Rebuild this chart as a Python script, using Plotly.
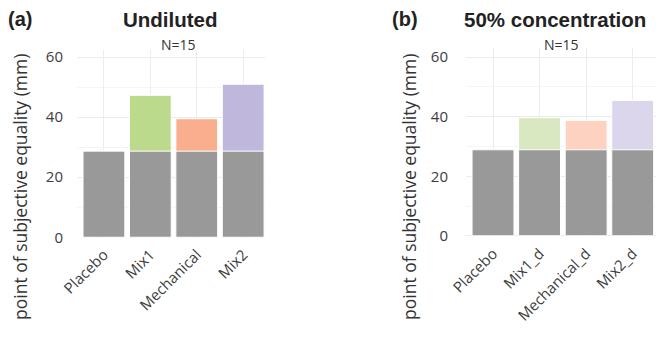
import plotly.graph_objects as go

# panel (a) undiluted
cats_a = ["Placebo", "Mix1", "Mechanical", "Mix2"]
vals_a = [28.7, 47.3, 39.5, 51.0]
base_a = [28.7, 28.7, 28.7, 28.7]

# panel (b) 50% concentration
cats_b = ["Placebo", "Mix1_d", "Mechanical_d", "Mix2_d"]
vals_b = [28.9, 39.7, 38.8, 45.5]
base_b = [28.9, 28.9, 28.9, 28.9]

cols_a = ["#999999", "#bcda8c", "#f9ae8d", "#bfb8dc"]
cols_b = ["#999999", "#d9e8c1", "#fdd2c0", "#dbd6ec"]
GRAY = "#999999"

# page body has an 8px margin, so the figure is a bit smaller and positions are shifted
OFF = 8
W, H = 664 - 2 * OFF, 338 - 2 * OFF
FONT = "Open Sans"

fig = go.Figure()

for ax, cats, vals, base, cols in [("", cats_a, vals_a, base_a, cols_a),
                                   ("2", cats_b, vals_b, base_b, cols_b)]:
    fig.add_trace(go.Bar(x=cats, y=vals, marker=dict(color=cols, line=dict(color="white", width=1)),
                         width=0.9, xaxis="x" + ax, yaxis="y" + ax, hoverinfo="skip"))
    fig.add_trace(go.Bar(x=cats, y=base, marker=dict(color=GRAY, line=dict(color="white", width=1)),
                         width=0.9, xaxis="x" + ax, yaxis="y" + ax, hoverinfo="skip"))


def px(x0, x1):
    return [(x0 - OFF) / W, min(1, (x1 - OFF) / W)]


def py(top, bottom):
    return [1 - (bottom - OFF) / H, 1 - (top - OFF) / H]


xcommon = dict(showgrid=True, gridcolor="#ededed", gridwidth=1, zeroline=False, showline=False,
               automargin=False, ticklabelstandoff=4,
               tickangle=-45, tickfont=dict(family=FONT, size=15, color="#3d3d3d"), ticks="")
ycommon = dict(showgrid=True, gridcolor="#ebebeb", gridwidth=1, zeroline=False, showline=False,
               automargin=False,
               tickvals=[0, 20, 40, 60], tickfont=dict(family=FONT, size=15, color="#3d3d3d"), ticks="",
               minor=dict(dtick=10, tick0=0, showgrid=True, gridcolor="#f5f5f5", gridwidth=1))

fig.update_layout(
    width=W, height=H, margin=dict(l=0, r=0, t=0, b=0),
    paper_bgcolor="white", plot_bgcolor="white",
    barmode="overlay", showlegend=False,
    xaxis=dict(domain=px(77, 265), range=[-0.58, 3.47], anchor="y", **xcommon),
    yaxis=dict(domain=py(50, 238), range=[-0.25, 62.4], anchor="x", ticklabelstandoff=13, **ycommon),
    xaxis2=dict(domain=px(466, 657), range=[-0.58, 3.5], anchor="y2", **xcommon),
    yaxis2=dict(domain=py(48, 237), range=[-0.4, 63.1], anchor="x2", ticklabelstandoff=17, **ycommon),
)

ann = [
    ("(a)", 20, 19, 20, True, "Liberation Sans", 0),
    ("Undiluted", 170, 19, 20.5, True, "Liberation Sans", 0),
    ("(b)", 405, 19, 20, True, "Liberation Sans", 0),
    ("50% concentration", 555, 19, 20.5, True, "Liberation Sans", 0),
    ("N=15", 178, 45, 14, False, FONT, 0),
    ("N=15", 561, 45, 14, False, FONT, 0),
    ("point of subjective equality (mm)", 20, 187, 17.5, False, FONT, -90),
    ("point of subjective equality (mm)", 409, 187, 17.5, False, FONT, -90),
]
for text, x, y, size, bold, fam, ang in ann:
    fig.add_annotation(text="<b>%s</b>" % text if bold else text, x=(x - OFF) / W, y=1 - (y - OFF) / H,
                       xref="paper", yref="paper", showarrow=False, textangle=ang,
                       font=dict(family=fam, size=size, color="#222222" if bold else "#333333"),
                       xanchor="center", yanchor="middle")

fig.write_html("out.html")
